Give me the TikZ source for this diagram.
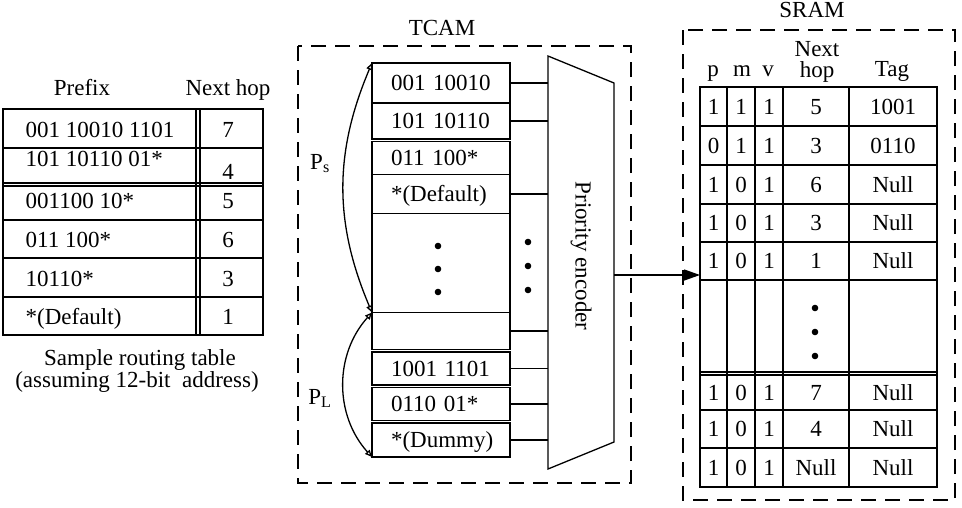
\documentclass[tikz,border=0pt]{standalone}
\usepackage{fontspec}
\setmainfont{Liberation Serif}
\usepackage{tikz}
\usetikzlibrary{positioning}
\usetikzlibrary{arrows.meta}
\tikzset{every node/.style={inner sep=0pt}, % Text sits right on its anchor
         txt/.style={text height=15pt, text depth=0pt},
         cell/.style={ % One TCAM entry
           draw, outer sep=0pt,
           minimum width=138pt, text width=100pt,
           inner xsep=19pt, inner ysep=0pt, align=left,
           text height=15pt, text depth=0pt},
         frame/.style={dash pattern=on 15pt off 9pt}, % Dashed block outline
         biarrow/.style={{Triangle[open,length=7pt,width=6pt]}-{Triangle[open,length=7pt,width=6pt]}},
         arrow/.style={-{Triangle[length=16pt,width=11pt]}}}

\begin{document}
\begin{tikzpicture}[x=1pt, y=-1pt, line width=1.3pt, font=\fontsize{23}{25}\selectfont]
      \useasboundingbox (0,0) rectangle (962,507);

      % routing table
      \node[anchor=base] (hpre) at (82,95) {Prefix};
      \node[anchor=base] (hhop) at (228,95) {Next hop};
      \draw (3,109) rectangle (263,335);
      \foreach \y in {148,183,186,220,258,297} \draw (3,\y) -- (263,\y);
      \draw (196,109) -- (196,335) (200,109) -- (200,335);
      \node[txt, anchor=west] (r1) at (25,130) {001 10010 1101};
      \node[txt, anchor=west] (r2) at (25,159) {101 10110 01*};
      \node[txt, anchor=west] (r3) at (25,201) {001100 10*};
      \node[txt, anchor=west] (r4) at (25,240) {011 100*};
      \node[txt, anchor=west] (r5) at (25,279) {10110*};
      \node[txt, anchor=west] (r6) at (25,317) {*(Default)};
      \foreach \y/\h [count=\i] in {130/7,172/4,201/5,240/6,279/3,317/1}
        \node[txt] (n\i) at (228,\y) {\h};
      \node[anchor=base] (cap1) at (140,365) {Sample routing table};
      \node[anchor=base] (cap2) at (137,387) {(assuming 12-bit~ address)};

      % TCAM
      \node[anchor=base] (tcam) at (442,35) {TCAM};
      \draw[frame] (298,46) rectangle (631,483);
      \node[cell, minimum height=40pt] (t1) at (441,83) {001 10010};
      \node[cell, minimum height=36pt, below=0pt of t1] (t2) {101 10110};
      \node[cell, minimum height=33pt, below=2.5pt of t2] (t3) {011 100*};
      \node[cell, minimum height=39pt, below=0pt of t3] (t4) {*(Default)};
      \node[cell, minimum height=99pt, below=0pt of t4] (t5) {};
      \node[cell, minimum height=37pt, below=0pt of t5] (t6) {};
      \node[cell, minimum height=33pt, below=2.5pt of t6] (t7) {1001 1101};
      \node[cell, minimum height=33pt, below=2.5pt of t7] (t8) {0110 01*};
      \node[cell, minimum height=34pt, below=2.5pt of t8] (t9) {*(Dummy)};
      \foreach \y in {246,269,292} \fill (438,\y) circle (3.3pt);
      \foreach \y in {242,266,290} \fill (528,\y) circle (3.3pt);

      \coordinate (e-tl) at (548,56);
      \coordinate (e-tr) at (614,83);
      \coordinate (e-br) at (614,442);
      \coordinate (e-bl) at (548,469);
      \draw (e-tl) -- (e-tr) -- (e-br) -- (e-bl) -- cycle;
      \node[rotate=-90] (enc) at (581,256) {Priority encoder};
      \foreach \c in {t1,t2,t4,t6,t7,t8,t9}
        \draw (\c.east) -- (\c.east -| e-tl);

      \draw[biarrow] (t1.north west) to[bend right=23] (t6.north west);
      \draw[biarrow] (t6.north west) to[bend right=42] (t9.south west);
      \node[anchor=base] (ps) at (320,169) {P\textsubscript{s}};
      \node[anchor=base] (pl) at (320,404) {P\textsubscript{L}};

      % SRAM
      \node[anchor=base] (sram) at (812,17) {SRAM};
      \draw[frame] (683,30) rectangle (955,500);
      \node[anchor=base] (hp) at (713,76) {p};
      \node[anchor=base] (hm) at (742,76) {m};
      \node[anchor=base] (hv) at (768,76) {v};
      \node[align=center] (hnh) at (817,61.5) {Next\\[-4pt]hop};
      \node[anchor=base] (htag) at (892,76) {Tag};
      \draw (700,87) rectangle (937,487);
      \foreach \x in {783,849} \draw (\x,87) -- (\x,487);
      \foreach \x in {727,755} \draw[line width=1.8pt] (\x,87) -- (\x,487);
      \foreach \y in {126,165,204,242,280,372,375,410,448} \draw (700,\y) -- (937,\y);
      \foreach \y/\p/\m/\v/\h/\g [count=\i] in {106.5/1/1/1/5/1001, 145.5/0/1/1/3/0110,
          184.5/1/0/1/6/Null, 223/1/0/1/3/Null, 261/1/0/1/1/Null,
          392.5/1/0/1/7/Null, 429/1/0/1/4/Null, 467.5/1/0/1/Null/Null} {
        \node[txt] (p\i) at (713.5,\y) {\p};
        \node[txt] (m\i) at (741,\y) {\m};
        \node[txt] (v\i) at (769,\y) {\v};
        \node[txt] (h\i) at (816,\y) {\h};
        \node[txt] (g\i) at (893,\y) {\g};
      }
      \foreach \y in {308,332,356} \fill (815,\y) circle (3.3pt);

      \coordinate (enc-out) at (614,275);
      \coordinate (sram-in) at (700,275);
      \draw[arrow] (enc-out) -- (sram-in);
\end{tikzpicture}
\end{document}
